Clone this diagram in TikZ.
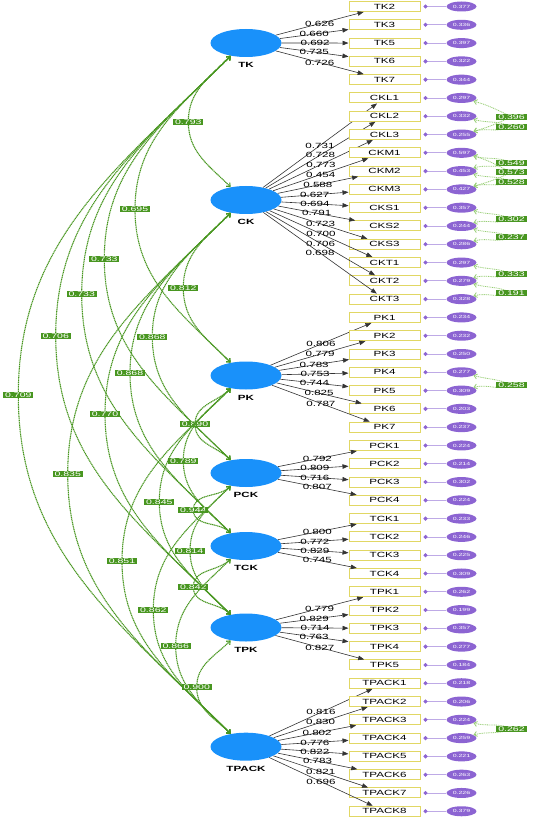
\documentclass[tikz,border=0pt]{standalone}
\usepackage{fontspec}
\newfontfamily\gvfont{Liberation Sans}[FakeStretch=1.55]
\usetikzlibrary{shapes.geometric,arrows.meta}
\definecolor{latblue}{RGB}{25,145,250}
\definecolor{errpurple}{RGB}{140,100,210}
\definecolor{errline}{RGB}{190,170,230}
\definecolor{boxyellow}{RGB}{225,215,100}
\definecolor{covgreen}{RGB}{72,150,32}
\definecolor{ecovgreen}{RGB}{150,205,115}

\begin{document}
\begin{tikzpicture}[x=1pt, y=1pt,
    lat/.style={ellipse, fill=latblue, minimum width=71pt, minimum height=28pt, inner sep=0pt},
    latlbl/.style={font=\gvfont\fontsize{7.5}{8}\selectfont\bfseries},
    ind/.style={draw=boxyellow, line width=1pt, fill=white, minimum width=71pt, minimum height=10pt, inner sep=0pt, font=\gvfont\fontsize{7.5}{8}\selectfont},
    err/.style={ellipse, fill=errpurple, minimum width=30pt, minimum height=10pt, inner sep=0pt, text=white, font=\gvfont\fontsize{4.5}{5}\selectfont},
    load/.style={draw=black!80, line width=0.6pt, -{Triangle[length=6pt, width=4.5pt]}},
    ldlbl/.style={font=\gvfont\fontsize{7.5}{8}\selectfont, inner sep=0pt},
    errln/.style={draw=errline, line width=0.8pt, -{Circle[length=4pt, color=errpurple]}, shorten >=3pt},
    cov/.style={covgreen, line width=1.1pt, dash pattern=on 1.2pt off 0.6pt, {Straight Barb[length=3pt, width=5pt]}-{Straight Barb[length=3pt, width=5pt]}},
    ecov/.style={ecovgreen, line width=0.8pt, dash pattern=on 1pt off 0.8pt, {Straight Barb[length=3pt, width=5pt]}-{Straight Barb[length=3pt, width=5pt]}},
    covlbl/.style={fill=covgreen, text=white, font=\gvfont\fontsize{6.8}{7}\selectfont, inner xsep=2pt, inner ysep=0.6pt},
  ]
    \useasboundingbox (0,0) rectangle (533,-818);

    % latents
    \foreach \n/\y in {TK/43, CK/200, PK/375.5, PCK/473, TCK/546, TPK/627.5, TPACK/746.7} {
      \node[lat] (\n) at (246,-\y) {};
      \node[latlbl] (\n-lbl) at (246,{-\y-22}) {\n};
    }

    % factor covariances
    \foreach \a/\b/\v/\lx/\ly [count=\k] in {
      TK/CK/0.793/188.3/121.7, TK/PK/0.695/135/209.3, TK/PCK/0.733/104.3/258.7,
      TK/TCK/0.733/81.7/294.3, TK/TPK/0.706/55.7/335.7, TK/TPACK/0.709/18.3/395,
      CK/PK/0.812/183.3/288, CK/PCK/0.868/152.3/336.7, CK/TCK/0.868/130/373,
      CK/TPK/0.770/105/414, CK/TPACK/0.835/67.7/474,
      PK/PCK/0.890/195/424.3, PK/TCK/0.789/183.3/460.7, PK/TPK/0.845/159.3/501.7,
      PK/TPACK/0.851/122/561.3,
      PCK/TCK/0.944/193.3/510, PCK/TPK/0.814/190/550.7, PCK/TPACK/0.862/153.3/610,
      TCK/TPK/0.842/193.3/587, TCK/TPACK/0.866/175.7/646,
      TPK/TPACK/0.900/196.7/687.3} {
      \coordinate (cv\k) at (\lx,-\ly);
      \draw[cov] (\a.220) to[out=225, in=90] (cv\k) to[out=-90, in=135] (\b.140);
      \node[covlbl] (cl\k) at (cv\k) {\v};
    }

    % indicators, loadings and residuals
    \foreach \n/\lv/\ld/\ev [count=\i from 0] in {
      TK2/TK/0.626/0.377, TK3/TK/0.660/0.336, TK5/TK/0.692/0.397, TK6/TK/0.735/0.322, TK7/TK/0.726/0.344,
      CKL1/CK/0.731/0.297, CKL2/CK/0.728/0.332, CKL3/CK/0.773/0.255,
      CKM1/CK/0.454/0.597, CKM2/CK/0.588/0.453, CKM3/CK/0.627/0.427,
      CKS1/CK/0.694/0.357, CKS2/CK/0.791/0.244, CKS3/CK/0.723/0.286,
      CKT1/CK/0.700/0.297, CKT2/CK/0.706/0.279, CKT3/CK/0.698/0.328,
      PK1/PK/0.806/0.234, PK2/PK/0.779/0.232, PK3/PK/0.783/0.250, PK4/PK/0.753/0.277,
      PK5/PK/0.744/0.309, PK6/PK/0.825/0.203, PK7/PK/0.787/0.237,
      PCK1/PCK/0.792/0.224, PCK2/PCK/0.809/0.214, PCK3/PCK/0.716/0.302, PCK4/PCK/0.807/0.224,
      TCK1/TCK/0.800/0.233, TCK2/TCK/0.772/0.246, TCK3/TCK/0.829/0.225, TCK4/TCK/0.745/0.309,
      TPK1/TPK/0.779/0.262, TPK2/TPK/0.829/0.199, TPK3/TPK/0.714/0.357, TPK4/TPK/0.763/0.277, TPK5/TPK/0.827/0.184,
      TPACK1/TPACK/0.816/0.218, TPACK2/TPACK/0.830/0.206, TPACK3/TPACK/0.802/0.224, TPACK4/TPACK/0.776/0.259,
      TPACK5/TPACK/0.822/0.221, TPACK6/TPACK/0.783/0.263, TPACK7/TPACK/0.821/0.226, TPACK8/TPACK/0.696/0.379} {
      \node[ind] (\n) at (384.5,{-6.5-\i*18.29}) {\n};
      \node[err] (e\n) at (461.5,{-6.5-\i*18.29}) {\ev};
      \draw[load] (\lv) -- node[ldlbl] {\ld} (\n);
      \draw[errln] (e\n) -- (\n);
    }

    % residual covariances
    \foreach \a/\b/\v/\y [count=\k] in {
      CKL1/CKL3/0.396/116.7, CKL2/CKL3/0.260/126.7,
      CKM1/CKM2/0.549/162.7, CKM1/CKM3/0.573/172.3, CKM2/CKM3/0.528/181.7,
      CKS1/CKS2/0.302/219, CKS2/CKS3/0.237/237.3,
      CKT1/CKT2/0.333/274, CKT2/CKT3/0.191/292.7,
      PK4/PK5/0.258/385, TPACK3/TPACK4/0.262/728.7} {
      \coordinate (ev\k) at (511.5,-\y);
      \draw[ecov] (e\a) to[out=-15, in=155] (ev\k) to[out=-155, in=15] (e\b);
      \node[covlbl] (el\k) at (ev\k) {\v};
    }
  \end{tikzpicture}
\end{document}
